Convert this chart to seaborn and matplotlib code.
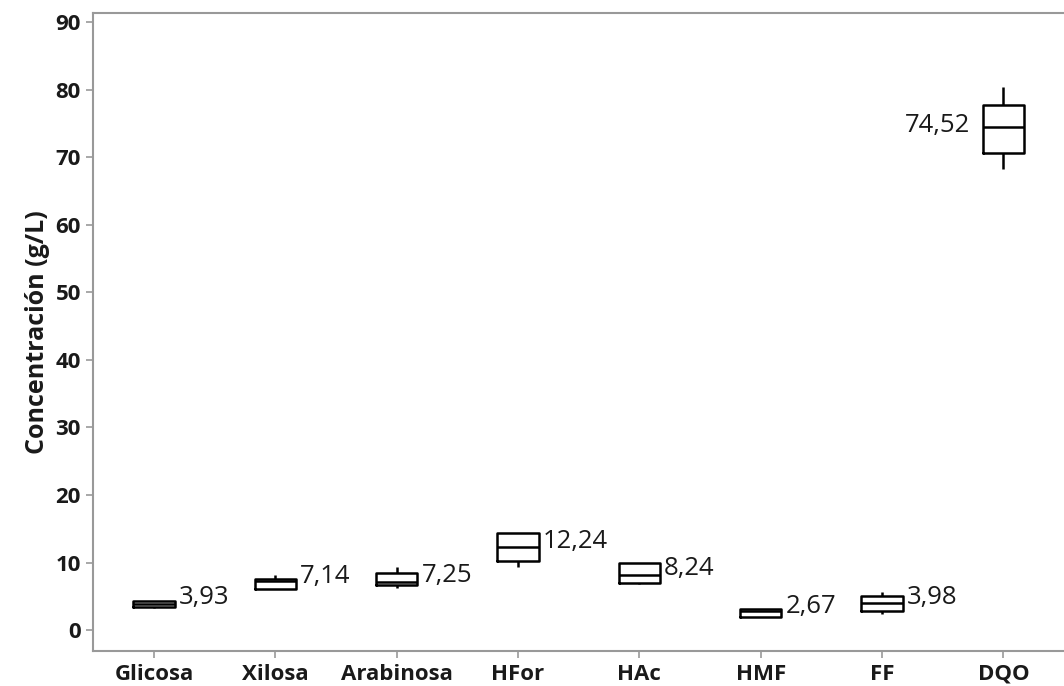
import numpy as np
import pandas as pd
import seaborn as sns
import matplotlib.pyplot as plt

# Box summaries: min, Q1, median, Q3, max
categorias = ['Glicosa', 'Xilosa', 'Arabinosa', 'HFor', 'HAc', 'HMF', 'FF', 'DQO']
glicosa = [3.26, 3.45, 3.90, 4.34, 4.34]
xilosa = [6.07, 6.07, 7.30, 7.55, 8.14]
arabinosa = [6.20, 6.66, 7.15, 8.48, 9.30]
hfor = [9.37, 10.20, 12.33, 14.40, 14.40]
hac = [6.76, 7.00, 8.14, 9.96, 9.96]
hmf = [1.97, 1.97, 2.80, 3.10, 3.10]
ff = [2.37, 2.86, 4.05, 5.03, 5.67]
dqo = [68.3, 70.7, 74.5, 77.8, 80.4]

# Mean labels shown next to each box
medias = [3.93, 7.14, 7.25, 12.24, 8.24, 2.67, 3.98, 74.52]

valores = [glicosa, xilosa, arabinosa, hfor, hac, hmf, ff, dqo]
df = pd.DataFrame({
    'Variable': np.repeat(categorias, 5),
    'Conc': np.concatenate(valores),
})

sns.set_style('white')
plt.rcParams['font.family'] = ['Open Sans', 'DejaVu Sans']

fig = plt.figure(figsize=(10.64, 6.86), dpi=100)
ax = fig.add_axes([0.0877, 0.051, 0.9123, 0.9305])

sns.boxplot(data=df, x='Variable', y='Conc', order=categorias, ax=ax,
            whis=np.inf, width=0.34, fill=False, color='black',
            linecolor='black', linewidth=1.8, showcaps=False)

# Mean labels
for i, m in enumerate(medias):
    txt = f'{m:.2f}'.replace('.', ',')
    if categorias[i] == 'DQO':
        ax.annotate(txt, (i - 0.17, m), xytext=(-9, 1), textcoords='offset points',
                    ha='right', va='center', fontsize=18.5, color='#1a1a1a')
    else:
        ax.annotate(txt, (i + 0.17, m), xytext=(3, 4), textcoords='offset points',
                    ha='left', va='center', fontsize=18.5, color='#1a1a1a')

ax.set_xlim(-0.5, 7.5)
ax.set_ylim(-3.1, 91.4)
ax.set_yticks(range(0, 91, 10))
ax.set_xlabel('')
ax.set_ylabel('Concentración (g/L)', fontsize=18, fontweight='bold',
              labelpad=4, color='#1a1a1a')

for s in ['left', 'bottom', 'top']:
    ax.spines[s].set_color('#999999')
    ax.spines[s].set_linewidth(1.5)
ax.spines['right'].set_visible(False)

ax.tick_params(axis='both', direction='out', length=5, width=1.2, color='#999999',
               labelsize=16, labelcolor='#1a1a1a', bottom=True, left=True, pad=4)
for lab in ax.get_xticklabels() + ax.get_yticklabels():
    lab.set_fontweight('bold')

plt.savefig('out.png', dpi=100)
